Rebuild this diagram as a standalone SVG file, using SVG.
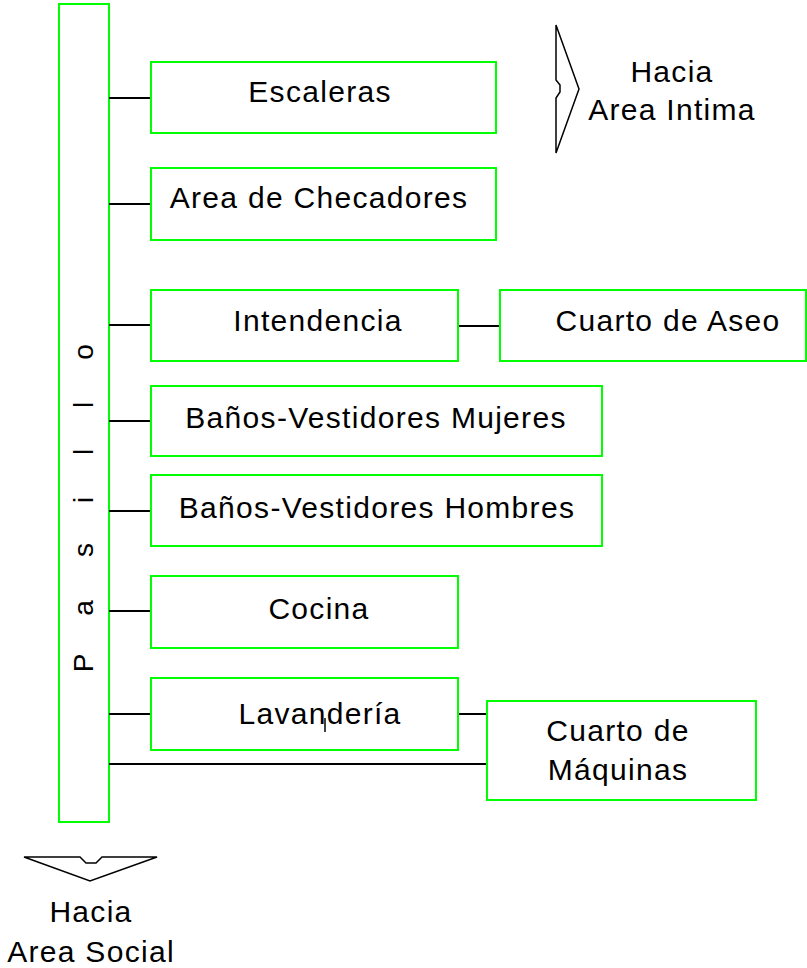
<svg xmlns="http://www.w3.org/2000/svg" width="807" height="968" viewBox="0 0 807 968">
<style>
.box{fill:#fff;stroke:#00ff00;stroke-width:2}
.ln{stroke:#000;stroke-width:2;fill:none}
.ar{stroke:#000;stroke-width:1.5;fill:none;stroke-linejoin:miter}
text{font-family:"Liberation Sans",Arial,sans-serif;font-size:30px;letter-spacing:1.3px;fill:#000;text-anchor:middle}
</style>
<rect width="807" height="968" fill="#fff"/>
<g id="pasillo">
<rect class="box" x="59" y="4" width="50" height="818"/>
<text transform="translate(93,0) rotate(-90)" x="-663 -608 -550 -500 -452 -405 -352" y="0" style="font-size:28px;letter-spacing:0">Pasillo</text>
</g>
<g id="connectors">
<line class="ln" x1="109" y1="98" x2="151" y2="98"/>
<line class="ln" x1="109" y1="204" x2="151" y2="204"/>
<line class="ln" x1="109" y1="325" x2="151" y2="325"/>
<line class="ln" x1="458" y1="326" x2="500" y2="326"/>
<line class="ln" x1="109" y1="421" x2="151" y2="421"/>
<line class="ln" x1="109" y1="511" x2="151" y2="511"/>
<line class="ln" x1="109" y1="611" x2="151" y2="611"/>
<line class="ln" x1="109" y1="714" x2="151" y2="714"/>
<line class="ln" x1="458" y1="714" x2="487" y2="714"/>
<line class="ln" x1="109" y1="764" x2="487" y2="764"/>
</g>
<g id="escaleras">
<rect class="box" x="151" y="62" width="345" height="71"/>
<text x="320" y="102">Escaleras</text>
</g>
<g id="checadores">
<rect class="box" x="151" y="168" width="345" height="72"/>
<text x="319" y="208">Area de Checadores</text>
</g>
<g id="intendencia">
<rect class="box" x="151" y="290" width="307" height="71"/>
<text x="318" y="331">Intendencia</text>
</g>
<g id="aseo">
<rect class="box" x="500" y="290" width="306" height="71"/>
<text x="668" y="331">Cuarto de Aseo</text>
</g>
<g id="mujeres">
<rect class="box" x="151" y="386" width="451" height="70"/>
<text x="376" y="428">Baños-Vestidores Mujeres</text>
</g>
<g id="hombres">
<rect class="box" x="151" y="475" width="451" height="71"/>
<text x="377" y="518">Baños-Vestidores Hombres</text>
</g>
<g id="cocina">
<rect class="box" x="151" y="576" width="307" height="72"/>
<text x="319" y="619">Cocina</text>
</g>
<g id="lavanderia">
<rect class="box" x="151" y="678" width="307" height="72"/>
<text x="320" y="724">Lavandería</text>
<line x1="325" y1="718" x2="325" y2="732" stroke="#000" stroke-width="1.5"/>
</g>
<g id="maquinas">
<rect class="box" x="487" y="701" width="269" height="99"/>
<text x="618" y="741">Cuarto de</text>
<text x="618" y="780">Máquinas</text>
</g>
<g id="area-intima">
<path class="ar" d="M556,25 L556,80 L560,85 L560,92 L556,98 L556,153 L579,89 Z"/>
<text x="672" y="82">Hacia</text>
<text x="672" y="120">Area Intima</text>
</g>
<g id="area-social">
<path class="ar" d="M24,857 L80,857 L86,863 L96,863 L102,857 L157,857 L90,881 Z"/>
<text x="91" y="922">Hacia</text>
<text x="91" y="962">Area Social</text>
</g>
</svg>
